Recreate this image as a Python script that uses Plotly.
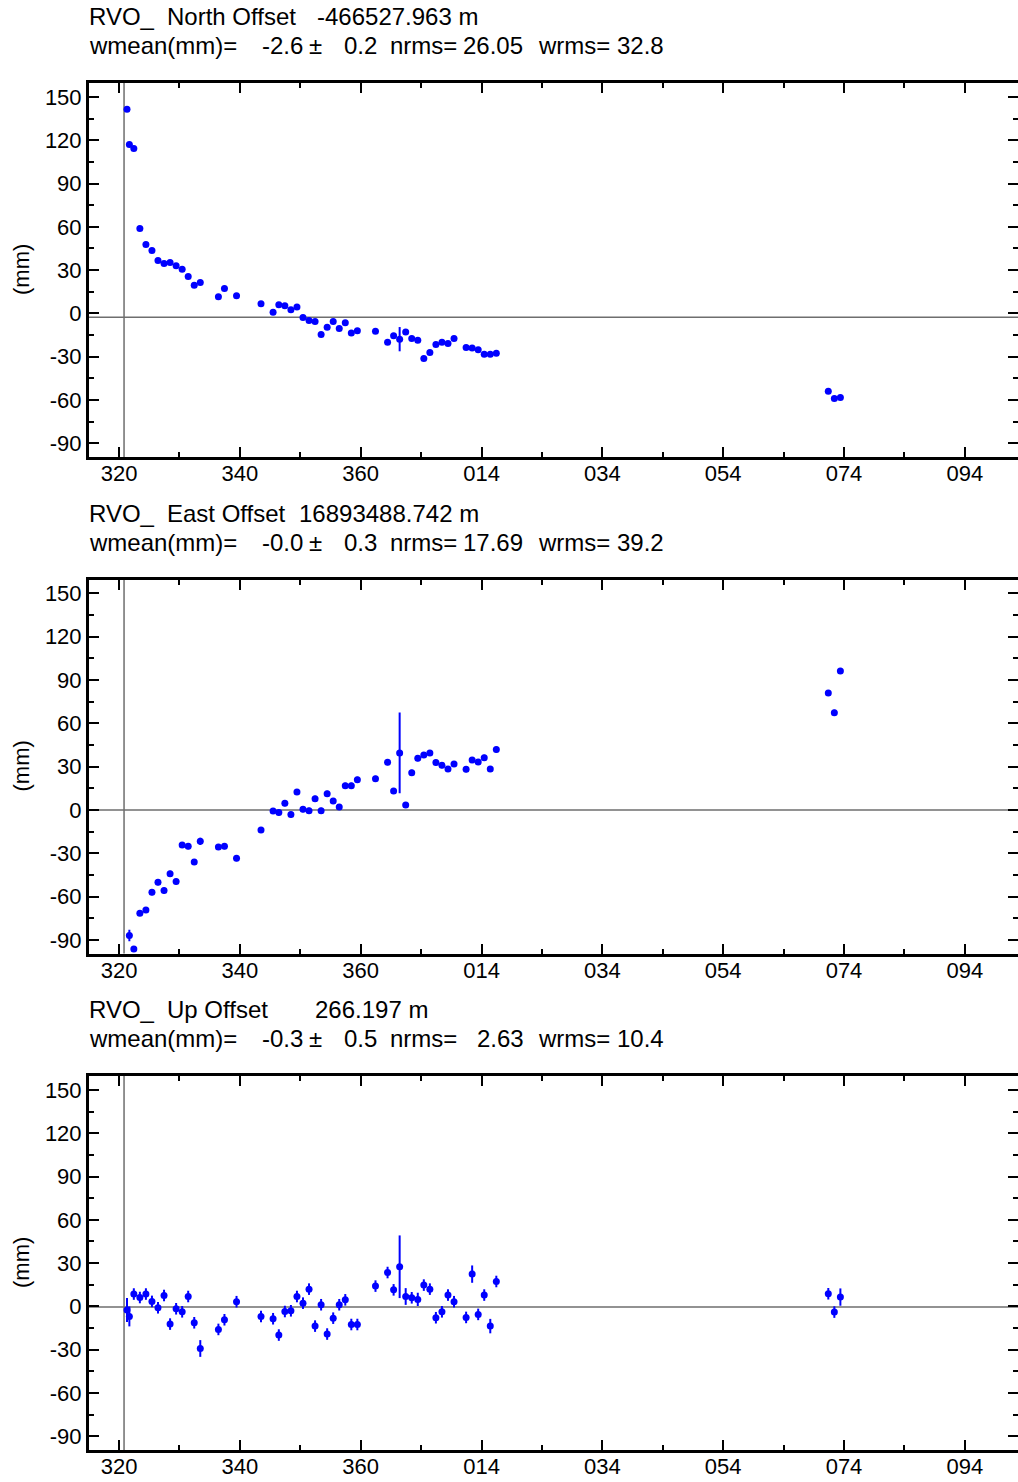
import plotly.graph_objects as go

# ---------------- data ----------------
station = "RVO_"
components = ["North", "East", "Up"]
offsets_m = ["-466527.963", "16893488.742", "266.197"]
wmean_mm = [-2.6, -0.0, -0.3]
wmean_sig = [0.2, 0.3, 0.5]
nrms_val = ["26.05", "17.69", "2.63"]
wrms_val = ["32.8", "39.2", "10.4"]

days = [321.32, 321.71, 322.45, 323.45, 324.45, 325.45, 326.45, 327.45, 328.45,
        329.45, 330.45, 331.45, 332.45, 333.45, 336.45, 337.45, 339.45, 343.5,
        345.5, 346.45, 347.45, 348.45, 349.45, 350.45, 351.45, 352.45, 353.45,
        354.45, 355.45, 356.45, 357.45, 358.45, 359.45, 362.45, 364.45, 365.45,
        366.45, 367.45, 368.45, 369.45, 370.45, 371.45, 372.45, 373.45, 374.45,
        375.45, 377.45, 378.45, 379.45, 380.45, 381.45, 382.45, 437.4, 438.4, 439.4]

north = [141.5, 117.0, 114.2, 58.8, 47.8, 43.6, 36.7, 34.6, 35.3, 33.0, 30.7, 25.6,
         19.6, 21.5, 11.5, 17.3, 12.2, 6.7, 0.9, 6.0, 5.3, 2.5, 4.4, -2.8, -4.8,
         -5.5, -14.5, -9.5, -5.5, -10.4, -6.5, -13.6, -12.0, -12.3, -19.9, -15.5,
         -17.8, -12.9, -17.3, -18.5, -31.2, -27.0, -21.5, -19.9, -20.8, -17.3,
         -23.5, -24.0, -25.2, -28.2, -28.2, -27.5, -53.8, -58.9, -58.2]
north_err = [1.5, 1.5, 1.5, 1.5, 1.5, 1.5, 1.5, 1.5, 1.5, 1.5, 1.5, 1.5, 1.5, 1.5,
             1.5, 1.5, 1.5, 1.5, 1.5, 1.5, 1.5, 1.5, 1.5, 1.5, 1.5, 1.5, 1.5, 1.5,
             1.5, 1.5, 1.5, 1.5, 1.5, 1.5, 1.5, 1.5, 8.4, 1.5, 1.5, 1.5, 1.5, 1.5,
             1.5, 1.5, 1.5, 1.5, 1.5, 1.5, 1.5, 1.5, 1.5, 1.5, 1.5, 1.5, 1.5]

east = [-112.0, -87.0, -96.3, -71.5, -69.3, -57.0, -50.1, -55.8, -44.1, -49.6, -24.2,
        -25.2, -36.0, -21.7, -25.6, -25.2, -33.5, -13.9, -0.7, -1.8, 4.6, -3.2, 12.5,
        0.5, -0.5, 7.8, -0.5, 11.3, 6.2, 2.1, 16.8, 16.8, 21.0, 21.7, 33.0, 13.2,
        39.5, 3.5, 25.8, 35.8, 38.1, 39.5, 32.8, 30.9, 28.4, 31.9, 28.2, 34.6, 33.2,
        36.2, 28.4, 41.8, 81.0, 67.4, 96.3]
east_err = [2.0, 4.0, 2.0, 2.0, 2.0, 2.0, 2.0, 2.0, 2.0, 2.0, 2.0, 2.0, 2.0, 2.5,
            2.0, 2.0, 2.0, 2.0, 2.0, 2.0, 2.0, 2.0, 2.0, 2.0, 2.0, 2.0, 2.0, 2.0,
            2.0, 2.0, 2.0, 2.0, 2.0, 2.0, 2.0, 2.0, 28.0, 2.0, 2.0, 2.0, 2.0, 2.0,
            2.0, 2.0, 2.0, 2.0, 2.0, 2.0, 2.0, 2.0, 2.0, 2.0, 2.0, 2.0, 2.0]

up = [-2.5, -6.9, 8.6, 6.2, 8.6, 3.5, -0.9, 7.6, -12.2, -1.6, -3.7, 6.9, -11.3, -29.1,
      -15.9, -9.2, 3.3, -6.9, -8.5, -19.8, -3.5, -3.0, 6.9, 2.3, 12.0, -13.6, 1.2,
      -19.1, -8.1, 1.2, 4.6, -12.5, -12.5, 14.1, 23.5, 11.5, 27.5, 6.9, 6.0, 4.9,
      14.8, 12.0, -7.8, -3.7, 7.9, 3.3, -7.6, 22.4, -5.5, 7.9, -13.6, 17.3,
      8.8, -3.9, 6.5]
up_err = [8.3, 6.9, 4.0, 4.0, 4.0, 4.0, 4.0, 4.0, 4.0, 4.0, 4.0, 4.0, 4.0, 5.8,
          4.0, 4.0, 4.0, 4.0, 4.0, 4.0, 4.0, 4.0, 4.0, 4.0, 4.0, 4.0, 4.0, 4.0,
          4.0, 4.0, 4.0, 4.0, 4.0, 4.0, 4.0, 4.0, 21.7, 5.8, 4.0, 4.6, 4.0, 4.0,
          4.0, 4.0, 4.0, 4.0, 4.0, 6.0, 4.0, 4.0, 5.0, 4.0, 4.0, 4.0, 6.0]

ref_day = 320.83

x_tick_vals = [320, 340, 360, 380, 400, 420, 440, 460]
x_tick_text = ["320", "340", "360", "014", "034", "054", "074", "094"]
y_tick_vals = [-90, -60, -30, 0, 30, 60, 90, 120, 150]
y_tick_text = ["-90", "-60", "-30", "0", "30", "60", "90", "120", "150"]

series = [(north, north_err), (east, east_err), (up, up_err)]

# ---------------- layout ----------------
W, H = 1018, 1482
ML, MR, MT, MB = 89, 0, 83, 32
PW, PH = W - ML - MR, H - MT - MB
panel_h = 374
gap = (PH - 3 * panel_h) / 2
FONT = "Liberation Sans, Arial, Helvetica, sans-serif"
BLUE = "#0000ff"
X_RANGE = [315.03, 468.8]
Y_RANGE = [-99.4, 159.6]


def px_x(p):
    return (p - ML) / PW


def px_y(p):
    return 1 - (p - MT) / PH


fig = go.Figure()
layout = dict(
    width=W, height=H,
    margin=dict(l=ML, r=MR, t=MT, b=MB, pad=0),
    paper_bgcolor="white", plot_bgcolor="white",
    showlegend=False,
    font=dict(family=FONT, size=20, color="black"),
)

tick_common = dict(ticks="inside", ticklen=10, tickwidth=1.5, tickcolor="black",
                   showgrid=False, zeroline=False)

annotations = []
shapes = []
for i in range(3):
    sx = "" if i == 0 else str(i + 1)
    rx = str(i + 4)
    top_px = MT + i * (panel_h + gap)
    bot_px = top_px + panel_h
    dom = [px_y(bot_px), px_y(top_px)]
    layout["xaxis" + sx] = dict(
        domain=[0, 1], anchor="y" + sx, range=X_RANGE,
        tickmode="array", tickvals=x_tick_vals, ticktext=x_tick_text,
        showline=True, linewidth=3, linecolor="black", mirror="ticks",
        ticklabelstandoff=-5,
        tickfont=dict(family=FONT, size=22, color="black"),
        minor=dict(tickmode="linear", tick0=320, dtick=10, ticks="inside",
                   ticklen=5, tickwidth=1.5, tickcolor="black", showgrid=False),
        **tick_common,
    )
    layout["yaxis" + sx] = dict(
        domain=dom, anchor="x" + sx, range=Y_RANGE,
        tickmode="array", tickvals=y_tick_vals, ticktext=y_tick_text,
        showline=True, linewidth=3, linecolor="black", mirror=False,
        tickfont=dict(family=FONT, size=22, color="black"),
        minor=dict(tickmode="linear", tick0=0, dtick=15, ticks="inside",
                   ticklen=5, tickwidth=1.5, tickcolor="black", showgrid=False),
        **tick_common,
    )
    # right-hand tick marks only (no frame line on the right edge)
    layout["yaxis" + rx] = dict(
        overlaying="y" + sx, anchor="x" + sx, side="right", range=Y_RANGE,
        tickmode="array", tickvals=y_tick_vals, showticklabels=False,
        showline=False,
        minor=dict(tickmode="linear", tick0=0, dtick=15, ticks="inside",
                   ticklen=5, tickwidth=1.5, tickcolor="black", showgrid=False),
        **tick_common,
    )
    vals, errs = series[i]
    fig.add_trace(go.Scatter(
        x=days, y=vals, mode="markers", xaxis="x" + sx, yaxis="y" + sx,
        marker=dict(color=BLUE, size=7, line=dict(width=0)),
        error_y=dict(type="data", array=errs, visible=True, thickness=2,
                     width=0, color=BLUE),
    ))
    fig.add_trace(go.Scatter(x=[], y=[], xaxis="x" + sx, yaxis="y" + rx,
                             mode="markers", hoverinfo="skip"))
    # mean line and reference epoch line
    shapes.append(dict(type="line", xref="x" + sx + " domain", yref="y" + sx,
                       x0=0, x1=1, y0=wmean_mm[i], y1=wmean_mm[i],
                       line=dict(color="#6e6e6e", width=1.5), layer="below"))
    shapes.append(dict(type="line", xref="x" + sx, yref="y" + sx + " domain",
                       x0=ref_day, x1=ref_day, y0=0, y1=1,
                       line=dict(color="#6e6e6e", width=1.5), layer="below"))

    # header text (tokens placed like the fixed-format original)
    line1_c = top_px - 66.5
    line2_c = top_px - 37.5
    tokens1 = [(station, 88), (components[i] + " Offset", 166),
               (offsets_m[i] + " m", [316, 298, 314][i])]
    sig = "%.1f" % wmean_mm[i]
    if wmean_mm[i] == 0:
        sig = "-0.0"
    tokens2 = [("wmean(mm)=", 88), (sig, 261), ("±", 308),
               ("%.1f" % wmean_sig[i], 343), ("nrms=", 389),
               (nrms_val[i], 462 + (14 if len(nrms_val[i]) == 4 else 0)),
               ("wrms=", 537), (wrms_val[i], 616)]
    for txt, xp in tokens1:
        annotations.append(dict(text=txt, x=px_x(xp), y=px_y(line1_c),
                                xref="paper", yref="paper", xanchor="left",
                                yanchor="middle", showarrow=False, borderpad=0,
                                font=dict(family=FONT, size=24, color="black")))
    for txt, xp in tokens2:
        annotations.append(dict(text=txt, x=px_x(xp), y=px_y(line2_c),
                                xref="paper", yref="paper", xanchor="left",
                                yanchor="middle", showarrow=False, borderpad=0,
                                font=dict(family=FONT, size=24, color="black")))
    # y axis title
    annotations.append(dict(text="(mm)", x=px_x(21), y=px_y((top_px + bot_px) / 2),
                            xref="paper", yref="paper", xanchor="center",
                            yanchor="middle", textangle=-90, showarrow=False,
                            font=dict(family=FONT, size=22, color="black")))

layout["annotations"] = annotations
layout["shapes"] = shapes
fig.update_layout(**layout)

fig.write_html("out.html", config={"displayModeBar": False},
               post_script="document.body.style.margin='0';")
